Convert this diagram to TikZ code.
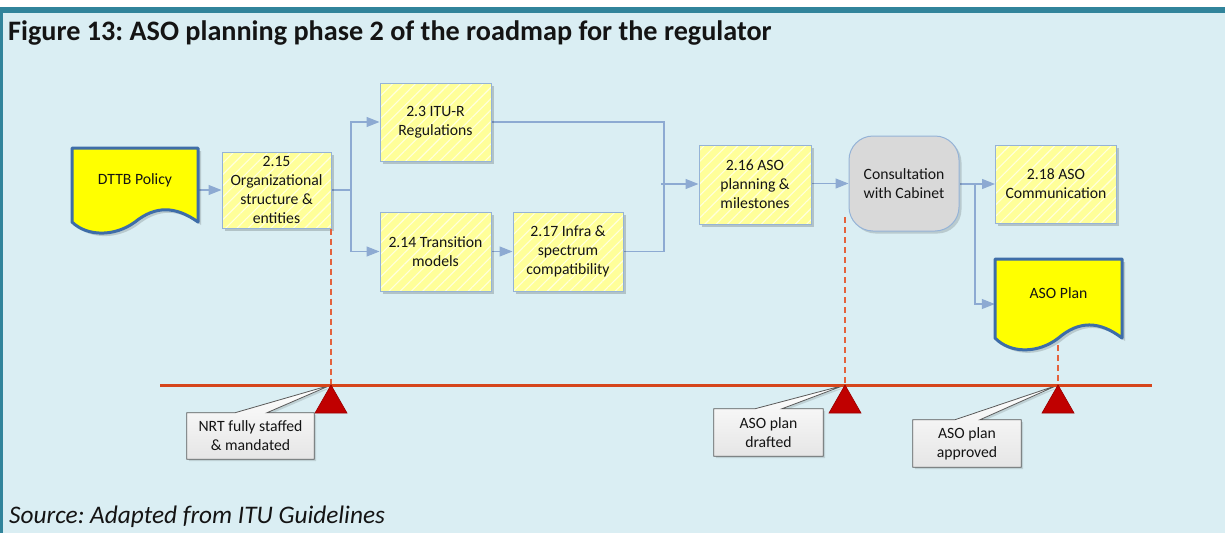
\documentclass[tikz,border=0pt]{standalone}
\usepackage{fontspec}
\setmainfont{Carlito}
\usetikzlibrary{arrows.meta,calc,patterns.meta,shadows}
\frenchspacing

\definecolor{panelbg}{RGB}{218,238,243}
\definecolor{panelrule}{RGB}{49,132,155}
\definecolor{boxfill}{RGB}{255,255,153}
\definecolor{hatchc}{RGB}{255,255,222}
\definecolor{boxline}{RGB}{149,179,215}
\definecolor{connc}{RGB}{141,170,210}
\definecolor{docfill}{RGB}{255,255,0}
\definecolor{docline}{RGB}{62,109,168}
\definecolor{consfill}{RGB}{217,217,217}
\definecolor{tlred}{RGB}{214,69,27}
\definecolor{dashred}{RGB}{228,98,60}
\definecolor{milered}{RGB}{192,0,0}
\definecolor{calloutline}{RGB}{90,90,90}
\definecolor{txt}{RGB}{20,20,20}

\pgfdeclarelayer{panel}
\pgfdeclarelayer{under}
\pgfsetlayers{panel,under,main}

\tikzset{
  boxtext/.style={font=\fontsize{15.7}{19}\selectfont, text=txt, align=center},
  taskbox/.style={boxtext, rectangle, draw=boxline, line width=1pt,
    inner sep=0pt,
    drop shadow={shadow xshift=2.5pt, shadow yshift=-2.5pt, fill=black, opacity=0.18},
    preaction={fill=boxfill},
    preaction={pattern={Lines[angle=45,distance=8pt,line width=1.1pt]}, pattern color=hatchc}},
  consbox/.style={boxtext, rectangle, rounded corners=24pt, draw=boxline, line width=1pt,
    fill=consfill, inner sep=0pt,
    drop shadow={shadow xshift=2.5pt, shadow yshift=-2.5pt, fill=black, opacity=0.15}},
  conn/.style={draw=connc, line width=1.2pt},
  connarrow/.style={conn, -{Triangle[length=13pt,width=10pt]}},
  docedge/.style={draw=docline, line width=3pt, fill=docfill, line join=round},
  milestone/.style={fill=milered, draw=milered!80!black, line width=0.6pt},
  calloutbody/.style={draw=calloutline, line width=0.8pt, top color=white, bottom color=black!10,
    drop shadow={shadow xshift=2pt, shadow yshift=-2pt, fill=black, opacity=0.12}},
  guide/.style={draw=dashred, line width=1.2pt, dash pattern=on 6pt off 4pt},
  pics/docshape/.style 2 args={code={
    \path[fill=black, opacity=0.15] (3,3) -- (#1+3,3) -- (#1+3,#2+3)
      .. controls (0.82*#1+3,#2-0.22*#2+3) and (0.66*#1+3,#2-0.22*#2+3) .. (0.5*#1+3,#2+3)
      .. controls (0.34*#1+3,#2+0.2*#2+3) and (0.12*#1+3,#2+0.2*#2+3) .. (3,#2+3) -- cycle;
    \path[docedge] (0,0) -- (#1,0) -- (#1,#2)
      .. controls (0.82*#1,#2-0.22*#2) and (0.66*#1,#2-0.22*#2) .. (0.5*#1,#2)
      .. controls (0.34*#1,#2+0.2*#2) and (0.12*#1,#2+0.2*#2) .. (0,#2) -- cycle;
  }}
}

\begin{document}
\begin{tikzpicture}[x=1pt,y=-1pt]
\useasboundingbox (0,0) rectangle (1225,533);

% panel background and rules
\begin{pgfonlayer}{panel}
  \fill[white] (0,0) rectangle (1225,533);
  \fill[panelbg] (0,7) rectangle (1225,533);
  \fill[panelrule] (0,7) rectangle (1225,12.5);
  \fill[panelrule] (0,7) rectangle (3,533);
\end{pgfonlayer}

% headings
\node[anchor=base west, inner sep=0pt, font=\bfseries\fontsize{28.2}{32}\selectfont, text=txt]
  (title) at (8,40) {Figure 13: ASO planning phase 2 of the roadmap for the regulator};
\node[anchor=base west, inner sep=0pt, font=\itshape\fontsize{25.3}{29}\selectfont, text=txt]
  (source) at (9,523) {Source: Adapted from ITU Guidelines};

% document shapes
\pic at (72,148) {docshape={126}{74}};
\node[boxtext, minimum width=126pt, minimum height=40pt, inner sep=0pt] (dttb) at (135,180) {DTTB Policy};
\pic at (995,259) {docshape={127}{79}};
\node[boxtext, minimum width=127pt, minimum height=40pt, inner sep=0pt] (asoplan) at (1058.5,293) {ASO Plan};

% task boxes
\node[taskbox, minimum width=109pt, minimum height=76pt] (t215) at (276.5,190) {2.15\\Organizational\\structure \&\\entities};
\node[taskbox, minimum width=111pt, minimum height=78pt] (t23) at (435.5,122) {2.3 ITU-R\\Regulations};
\node[taskbox, minimum width=111pt, minimum height=79pt] (t214) at (435.5,251.5) {2.14 Transition\\models};
\node[taskbox, minimum width=110pt, minimum height=79pt] (t217) at (568,251.5) {2.17 Infra \&\\spectrum\\compatibility};
\node[taskbox, minimum width=112pt, minimum height=79pt] (t216) at (755,184.5) {2.16 ASO\\planning \&\\milestones};
\node[consbox, minimum width=110pt, minimum height=95pt] (cons) at (904,183.5) {Consultation\\with Cabinet};
\node[taskbox, minimum width=121pt, minimum height=78pt] (t218) at (1056,184) {2.18 ASO\\Communication};

% junction points of the flow lines
\coordinate (split) at (351,190);
\coordinate (merge) at (664,184);
\coordinate (branch) at (975,184);

% flow connectors
\begin{pgfonlayer}{under}
  \draw[connarrow] (dttb.east |- t215) -- (t215.west);
  \draw[conn] (t215.east) -- (split);
  \draw[connarrow] (split) |- (t23.west);
  \draw[connarrow] (split) |- (t214.west);
  \draw[connarrow] (t214.east) -- (t217.west);
  \draw[conn] (t23.east) -| (merge);
  \draw[conn] (t217.east) -| (merge);
  \draw[connarrow] ([xshift=-3pt]merge) -- (merge -| t216.west);
  \draw[connarrow] (t216.east |- cons) -- (cons.west);
  \draw[connarrow] (cons.east |- t218) -- (t218.west);
  \draw[connarrow] (branch) |- (asoplan.west |- 0,304);
\end{pgfonlayer}

% timeline and milestones
\coordinate (tlstart) at (160,385);
\coordinate (tlend) at (1152,385);
\coordinate (m1) at (331,385);
\coordinate (m2) at (845,385);
\coordinate (m3) at (1058,385);
\coordinate (g2) at (845,217);
\coordinate (g3) at (1058,345);

\draw[guide] (m1 |- t215.south) -- (m1);
\draw[guide] (g2) -- (m2);
\draw[guide] (g3) -- (m3);
\draw[draw=tlred, line width=3pt] (tlstart) -- (tlend);

\foreach \m in {m1,m2,m3}
  \path[milestone] (\m) -- ++(16,28) -- ++(-32,0) -- cycle;

% callouts
\node[boxtext, minimum width=127pt, minimum height=46pt, inner sep=0pt] (c1) at (250.5,436) {NRT fully staffed\\\& mandated};
\node[boxtext, minimum width=109pt, minimum height=47pt, inner sep=0pt] (c2) at (768.5,432.5) {ASO plan\\drafted};
\node[boxtext, minimum width=108pt, minimum height=47pt, inner sep=0pt] (c3) at (967,443.5) {ASO plan\\approved};

\begin{pgfonlayer}{under}
  \path[calloutbody] (c1.north west) -- ($(c1.north west)+(48,0)$) -- (m1) -- ($(c1.north west)+(80,0)$)
    -- (c1.north east) -- (c1.south east) -- (c1.south west) -- cycle;
  \path[calloutbody] (c2.north west) -- ($(c2.north west)+(41,0)$) -- (m2) -- ($(c2.north west)+(68,0)$)
    -- (c2.north east) -- (c2.south east) -- (c2.south west) -- cycle;
  \path[calloutbody] (c3.north west) -- ($(c3.north west)+(42,0)$) -- (m3) -- ($(c3.north west)+(67,0)$)
    -- (c3.north east) -- (c3.south east) -- (c3.south west) -- cycle;
\end{pgfonlayer}
\end{tikzpicture}
\end{document}
